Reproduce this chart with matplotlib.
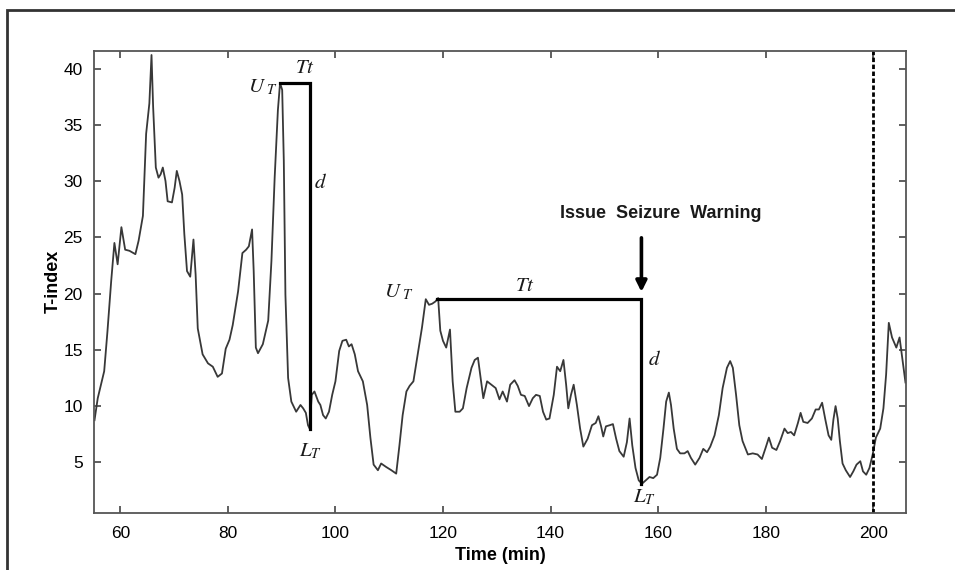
import matplotlib
matplotlib.use("Agg")
import matplotlib.pyplot as plt
from matplotlib.patches import Rectangle

plt.rcParams['font.family'] = ['Liberation Sans', 'DejaVu Sans']
plt.rcParams['mathtext.fontset'] = 'stix'

# T-index trace (time in minutes)
time_min = [55.2, 55.8, 57.0, 57.6, 58.3, 58.9, 59.5, 60.2, 60.9, 61.7, 62.8, 63.4, 64.2, 64.8, 65.4, 65.8,
            66.1, 66.6, 67.1, 67.5, 67.9, 68.4, 68.8, 69.6, 70.1, 70.5, 71.0, 71.5, 71.9, 72.4, 73.0, 73.6,
            74.0, 74.4, 75.3, 76.3, 77.2, 78.1, 78.9, 79.6, 80.3, 80.9, 81.9, 82.7, 83.4, 83.9, 84.5, 84.8,
            85.2, 85.6, 86.5, 87.5, 88.1, 88.7, 89.3, 89.7, 90.1, 90.4, 90.7, 91.2, 91.8, 92.7, 93.5, 94.0,
            94.5, 94.9, 95.2, 95.6, 96.1, 96.8, 97.2, 97.7, 98.2, 98.8, 99.4, 100.0, 100.7, 101.3, 102.0,
            102.5, 103.0, 103.6, 104.2, 105.1, 105.9, 106.5, 107.1, 107.9, 108.5, 109.4, 110.4, 111.3,
            111.9, 112.5, 113.2, 113.8, 114.5, 115.3, 116.1, 116.8, 117.4, 118.0, 118.6, 119.1, 119.5,
            120.0, 120.6, 121.3, 121.8, 122.3, 123.1, 123.7, 124.4, 125.3, 125.9, 126.5, 127.0, 127.5,
            128.2, 129.0, 129.8, 130.5, 131.1, 131.9, 132.5, 133.3, 133.9, 134.5, 135.2, 136.0, 136.7,
            137.3, 138.0, 138.6, 139.2, 139.8, 140.6, 141.2, 141.8, 142.4, 142.9, 143.3, 143.8, 144.3,
            144.9, 145.5, 146.1, 146.9, 147.7, 148.4, 148.9, 149.4, 149.8, 150.3, 151.0, 151.6, 152.2,
            152.8, 153.6, 154.2, 154.7, 155.2, 155.8, 156.4, 157.0, 157.7, 158.4, 159.1, 159.8, 160.4,
            161.0, 161.5, 162.0, 162.4, 162.9, 163.5, 164.1, 164.9, 165.5, 166.1, 166.9, 167.7, 168.4,
            169.1, 169.7, 170.5, 171.3, 172.0, 172.8, 173.4, 173.9, 174.5, 175.1, 175.7, 176.7, 177.6,
            178.5, 179.3, 180.0, 180.6, 181.2, 182.0, 182.7, 183.5, 184.1, 184.7, 185.3, 186.0, 186.5,
            187.0, 187.8, 188.6, 189.3, 189.9, 190.5, 191.1, 191.7, 192.2, 192.6, 193.0, 193.4, 193.8,
            194.3, 194.9, 195.7, 196.3, 196.9, 197.6, 198.1, 198.7, 199.3, 199.9, 200.5, 201.3, 201.9,
            202.4, 202.9, 203.5, 204.3, 204.9, 205.4, 206.0]
t_index = [8.75, 10.7, 13.1, 16.6, 21.1, 24.5, 22.6, 25.9, 23.9, 23.8, 23.5, 24.7, 26.9, 34.2, 36.9, 41.2,
           36.6, 31.2, 30.3, 30.6, 31.2, 30.0, 28.2, 28.1, 29.4, 30.9, 30.0, 28.8, 25.3, 22.0, 21.5, 24.8,
           21.7, 16.9, 14.6, 13.8, 13.5, 12.6, 12.9, 15.1, 15.9, 17.2, 20.2, 23.6, 23.9, 24.2, 25.7, 22.0,
           15.2, 14.7, 15.5, 17.6, 22.9, 30.3, 36.3, 38.7, 38.1, 31.8, 19.9, 12.5, 10.4, 9.5, 10.1, 9.8,
           9.4, 8.3, 8.0, 11.0, 11.3, 10.4, 10.1, 9.2, 8.9, 9.5, 11.0, 12.2, 14.9, 15.8, 15.9,
           15.3, 15.5, 14.6, 13.1, 12.2, 10.1, 7.2, 4.8, 4.3, 4.9, 4.6, 4.3, 4.0,
           6.5, 9.2, 11.3, 11.8, 12.2, 14.6, 17.0, 19.5, 19.0, 19.1, 19.3, 19.6, 16.7,
           15.8, 15.2, 16.8, 12.2, 9.5, 9.5, 9.8, 11.6, 13.4, 14.1, 14.3, 12.5, 10.7,
           12.2, 11.9, 11.6, 10.6, 11.3, 10.4, 11.9, 12.3, 11.8, 11.0, 10.9, 10.0, 10.7,
           11.0, 10.9, 9.5, 8.8, 8.9, 11.0, 13.5, 13.1, 14.1, 11.9, 9.8, 11.0, 11.9,
           10.1, 8.0, 6.4, 7.1, 8.3, 8.5, 9.1, 8.2, 7.3, 8.2, 8.3, 8.4, 7.1,
           6.0, 5.5, 6.8, 8.9, 6.5, 4.5, 3.4, 3.1, 3.4, 3.7, 3.6, 3.9, 5.4,
           8.0, 10.4, 11.2, 10.1, 8.0, 6.2, 5.8, 5.8, 6.0, 5.4, 4.8, 5.4, 6.2,
           5.9, 6.4, 7.4, 9.2, 11.6, 13.4, 14.0, 13.4, 11.0, 8.3, 6.9, 5.7, 5.8,
           5.7, 5.3, 6.3, 7.2, 6.3, 6.1, 6.9, 8.0, 7.6, 7.7, 7.4, 8.5, 9.4,
           8.6, 8.5, 8.9, 9.7, 9.7, 10.3, 8.8, 7.4, 7.0, 8.8, 10.0, 8.9, 6.9,
           4.9, 4.3, 3.7, 4.2, 4.8, 5.1, 4.2, 3.9, 4.5, 5.7, 7.2, 8.0, 9.8,
           12.8, 17.4, 16.1, 15.2, 16.1, 14.3, 12.1]

# the two drop brackets: (start of Tt, end of Tt / d line, upper value, lower value)
bracket_x0 = [89.6, 118.8]
bracket_x1 = [95.3, 156.9]
upper_T = [38.7, 19.5]
lower_T = [8.0, 3.1]
seizure_time = 200

fig = plt.figure(figsize=(9.55, 5.7), dpi=100)
fig.patches.append(Rectangle((0.0073, -0.05), 1.1, 1.0325, transform=fig.transFigure,
                             fill=False, edgecolor='#333333', lw=2))

ax = fig.add_axes([0.0984, 0.1, 0.8503, 0.8114])
ax.plot(time_min, t_index, color='#383838', lw=1.3)

for x0, x1, u, l in zip(bracket_x0, bracket_x1, upper_T, lower_T):
    ax.plot([x0, x1, x1], [u, u, l], color='black', lw=2.3, solid_joinstyle='miter')

ax.axvline(seizure_time, color='black', lw=2, linestyle=(0, (1.6, 0.9)))

ax.annotate('', xy=(156.9, 19.9), xytext=(156.9, 25.2),
            arrowprops=dict(arrowstyle='-|>', color='black', lw=2.6, mutation_scale=16))
ax.text(160.5, 27.1, 'Issue  Seizure  Warning', ha='center', va='center',
        fontsize=13, fontweight='bold', color='#1a1a1a')

labels = [(r'$U_{\ T}$', 86.6, 38.3), (r'$Tt$', 94.3, 40.1), (r'$d$', 97.3, 29.9), (r'$L_T$', 95.3, 6.0),
          (r'$U_{\ T}$', 111.9, 20.1), (r'$Tt$', 135.2, 20.7), (r'$d$', 159.3, 14.1), (r'$L_T$', 157.5, 1.9)]
for s, x, y in labels:
    ax.text(x, y, s, ha='center', va='center', fontsize=15, color='#1a1a1a')

ax.set_xlim(55.1, 206.1)
ax.set_ylim(0.5, 41.6)
ax.set_xticks(range(60, 201, 20))
ax.set_yticks(range(5, 41, 5))
ax.tick_params(direction='in', length=5, width=1.2, color='#444444', labelsize=12.5,
               top=True, right=True)
ax.tick_params(axis='x', pad=9)
ax.tick_params(axis='y', pad=8)
for sp in ax.spines.values():
    sp.set_color('#555555')
    sp.set_linewidth(1.3)
ax.set_xlabel('Time (min)', fontsize=13, fontweight='bold', labelpad=5)
ax.set_ylabel('T-index', fontsize=13, fontweight='bold', labelpad=1)

fig.savefig('out.png', dpi=100)
